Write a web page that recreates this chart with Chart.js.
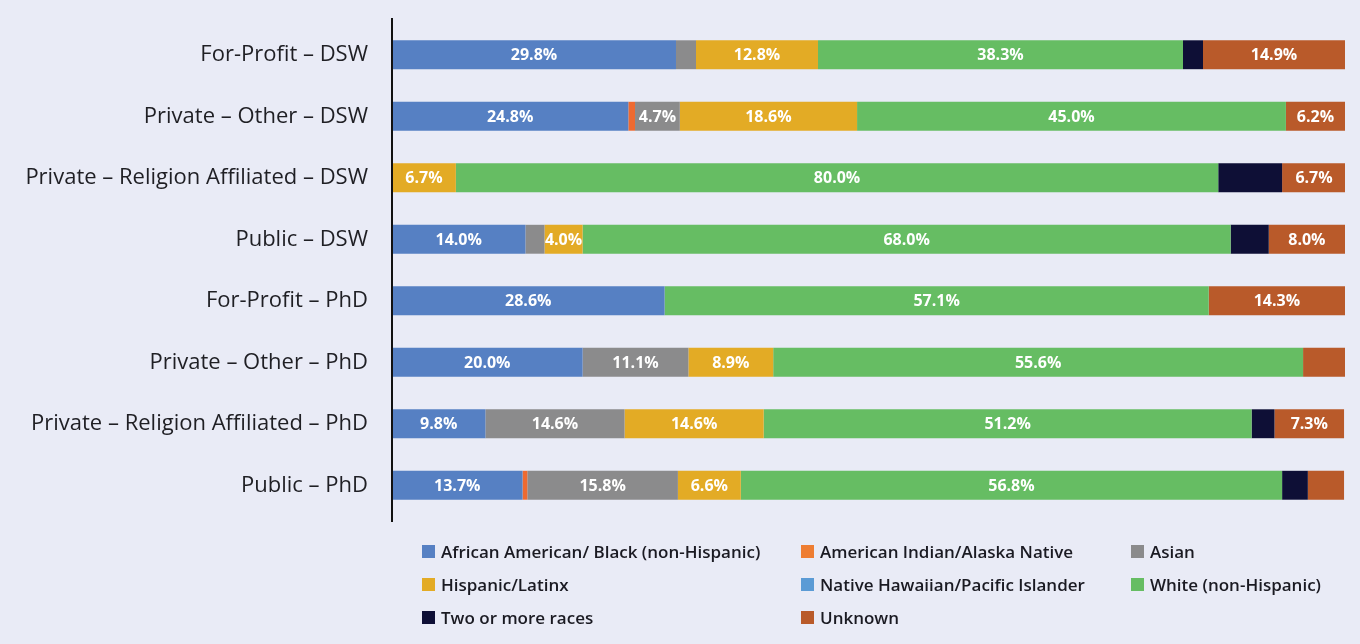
<!DOCTYPE html>
<html>
<head>
<meta charset="utf-8">
<script src="https://cdn.jsdelivr.net/npm/chart.js@4.4.1/dist/chart.umd.min.js"></script>
<style>
  html, body { margin: 0; padding: 0; background: #e9ebf6; }
  #wrap { position: relative; width: 1360px; height: 644px; }
  canvas { position: absolute; left: 0; top: 0; }
  #legend {
    position: absolute; left: 422px; top: 535px;
    display: grid; grid-template-columns: 379px 330px 220px; grid-auto-rows: 33px;
    font-family: "Open Sans", sans-serif; font-size: 17px; font-weight: 600; color: #1a1a22;
  }
  .li { display: flex; align-items: center; white-space: nowrap; }
  .sw { width: 13px; height: 13px; margin-right: 6px; flex: none; }
</style>
</head>
<body>
<div id="wrap">
  <canvas id="c" width="1360" height="644"></canvas>
  <div id="legend"></div>
</div>
<script>
const categories = [
  'For-Profit – DSW',
  'Private – Other – DSW',
  'Private – Religion Affiliated – DSW',
  'Public – DSW',
  'For-Profit – PhD',
  'Private – Other – PhD',
  'Private – Religion Affiliated – PhD',
  'Public – PhD'
];
const seriesNames = [
  'African American/ Black (non-Hispanic)',
  'American Indian/Alaska Native',
  'Asian',
  'Hispanic/Latinx',
  'Native Hawaiian/Pacific Islander',
  'White (non-Hispanic)',
  'Two or more races',
  'Unknown'
];
const africanAmerican = [29.8, 24.8, 0,    14.0, 28.6, 20.0,  9.8, 13.7];
const americanIndian  = [0,     0.7, 0,     0,    0,    0,    0,    0.5];
const asian           = [2.1,   4.7, 0,     2.0,  0,   11.1, 14.6, 15.8];
const hispanic        = [12.8, 18.6, 6.7,   4.0,  0,    8.9, 14.6,  6.6];
const nativeHawaiian  = [0,     0,   0,     0,    0,    0,    0,    0];
const white           = [38.3, 45.0, 80.0, 68.0, 57.1, 55.6, 51.2, 56.8];
const twoOrMore       = [2.1,   0,   6.7,   4.0,  0,    0,    2.4,  2.7];
const unknown         = [14.9,  6.2, 6.7,   8.0, 14.3,  4.4,  7.3,  3.8];

const seriesValues = [africanAmerican, americanIndian, asian, hispanic, nativeHawaiian, white, twoOrMore, unknown];
const colors = ['#5680c3', '#ee6a31', '#8b8b8c', '#e3ab25', '#5b9bd5', '#66bd63', '#0e0f36', '#b95a2a'];
const legendColors = ['#5680c3', '#ee7d32', '#8b8b8c', '#e3ab25', '#5b9bd5', '#66bd63', '#0e0f36', '#b95a2a'];

// label visibility rules
const labelMin = 4;
const unlabeledSeries = ['Two or more races'];
const unlabeledPoints = [['Unknown', 'Private – Other – PhD']];

const datasets = seriesNames.map((n, i) => ({
  label: n,
  data: seriesValues[i],
  backgroundColor: colors[i],
  borderWidth: 0,
  barPercentage: 0.47,
  categoryPercentage: 1
}));

const labelPlugin = {
  id: 'segLabels',
  afterDatasetsDraw(chart) {
    const ctx = chart.ctx;
    ctx.save();
    ctx.font = 'bold 16px "Open Sans", sans-serif';
    ctx.fillStyle = '#ffffff';
    ctx.textAlign = 'center';
    ctx.textBaseline = 'middle';
    chart.data.datasets.forEach((ds, di) => {
      if (unlabeledSeries.includes(ds.label)) return;
      const meta = chart.getDatasetMeta(di);
      meta.data.forEach((el, j) => {
        const v = ds.data[j];
        if (v < labelMin) return;
        if (unlabeledPoints.some(p => p[0] === ds.label && p[1] === categories[j])) return;
        const cx = (el.x + el.base) / 2;
        ctx.fillText(v.toFixed(1) + '%', cx, el.y + 1);
      });
    });
    ctx.restore();
  }
};

const axisLinePlugin = {
  id: 'axisLine',
  afterDraw(chart) {
    const a = chart.chartArea, ctx = chart.ctx;
    ctx.save();
    ctx.strokeStyle = '#111111';
    ctx.lineWidth = 2;
    ctx.beginPath();
    ctx.moveTo(a.left, a.top - 6);
    ctx.lineTo(a.left, a.bottom + 6);
    ctx.stroke();
    ctx.restore();
  }
};

const chart = new Chart(document.getElementById('c'), {
  type: 'bar',
  data: { labels: categories, datasets },
  options: {
    indexAxis: 'y',
    responsive: false,
    animation: false,
    layout: { padding: { top: 24, right: 15, bottom: 128, left: 0 } },
    plugins: { legend: { display: false }, tooltip: { enabled: false } },
    scales: {
      x: {
        stacked: true, min: 0, max: 100, display: false
      },
      y: {
        stacked: true,
        grid: { display: false, drawTicks: false },
        border: { display: false },
        ticks: {
          padding: 24,
          color: '#1f1f24',
          font: { family: '"Open Sans", sans-serif', size: 22 }
        },
        afterFit(scale) {
          scale.width = 392;
          scale.paddingTop = 0;
          scale.paddingBottom = 0;
        }
      }
    }
  },
  plugins: [labelPlugin, axisLinePlugin]
});

// HTML legend generated from chart datasets
const leg = document.getElementById('legend');
chart.data.datasets.forEach((ds, i) => {
  const item = document.createElement('div');
  item.className = 'li';
  const sw = document.createElement('span');
  sw.className = 'sw';
  sw.style.background = legendColors[i];
  const tx = document.createElement('span');
  tx.textContent = ds.label;
  item.appendChild(sw); item.appendChild(tx);
  leg.appendChild(item);
});
</script>
</body>
</html>
